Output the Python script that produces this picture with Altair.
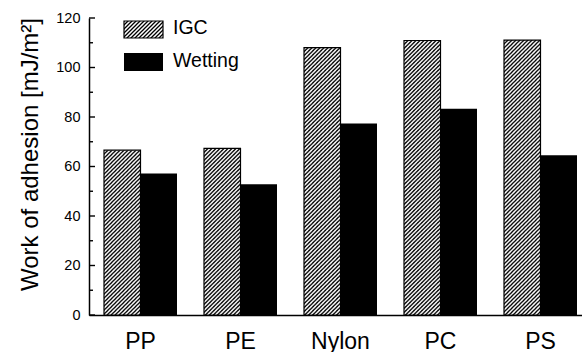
import urllib.parse
import altair as alt
import pandas as pd

# ---- data ----
materials = ["PP", "PE", "Nylon", "PC", "PS"]
igc = [66.6, 67.3, 108.0, 110.9, 111.1]
wetting = [57.2, 52.8, 77.4, 83.3, 64.5]
series = ["IGC", "Wetting"]
major_ticks = [0, 20, 40, 60, 80, 100, 120]
minor_ticks = [10, 30, 50, 70, 90, 110]

rows = []
for m, a, b in zip(materials, igc, wetting):
    rows.append({"material": m, "series": "IGC", "value": a})
    rows.append({"material": m, "series": "Wetting", "value": b})
df = pd.DataFrame(rows)
legend_df = pd.DataFrame({"series": series})
major_df = pd.DataFrame({"v": major_ticks})
minor_df = pd.DataFrame({"v": minor_ticks})

FONT = "Liberation Sans"

hatch_svg = (
    "<svg xmlns='http://www.w3.org/2000/svg' width='100%' height='100%'>"
    "<defs><pattern id='p' width='4' height='4' patternUnits='userSpaceOnUse'>"
    "<path d='M-1,1 L1,-1 M0,4 L4,0 M3,5 L5,3' stroke='black' stroke-width='1.3'/>"
    "</pattern></defs>"
    "<rect width='100%' height='100%' fill='white'/>"
    "<rect width='100%' height='100%' fill='url(#p)'/></svg>"
)
hatch_url = "data:image/svg+xml," + urllib.parse.quote(hatch_svg)

x_enc = alt.X(
    "material:N",
    sort=materials,
    scale=alt.Scale(paddingInner=0.27, paddingOuter=0.1, align=0.75),
    axis=alt.Axis(
        title=None,
        labelAngle=0,
        labelFontSize=23,
        labelFont=FONT,
        labelColor="black",
        labelBaseline="alphabetic",
        labelPadding=33,
        ticks=False,
        tickSize=0,
        domainColor="black",
        domainWidth=1.5,
    ),
)
xo_enc = alt.XOffset("series:N", sort=series, scale=alt.Scale(paddingInner=0, paddingOuter=0))
y_scale = alt.Scale(domain=[0, 120], nice=False)
y_enc = alt.Y(
    "value:Q",
    scale=y_scale,
    axis=alt.Axis(
        values=major_ticks,
        title="Work of adhesion [mJ/m²]",
        titleFontSize=24,
        titleFont=FONT,
        titleFontWeight="normal",
        titleColor="black",
        titleAngle=270,
        titleBaseline="alphabetic",
        titleAlign="center",
        titleX=-52,
        titleY=136,
        labelFontSize=14.5,
        labelFont=FONT,
        labelColor="black",
        labelPadding=9,
        ticks=False,
        tickSize=0,
        grid=False,
        domainColor="black",
        domainWidth=1.5,
    ),
)

base = alt.Chart(df)

wet_bars = base.transform_filter(alt.datum.series == "Wetting").mark_bar(
    color="black"
).encode(x=x_enc, xOffset=xo_enc, y=y_enc)

igc_img = base.transform_filter(alt.datum.series == "IGC").mark_image(
    aspect=False
).encode(x=x_enc, xOffset=xo_enc, y=y_enc, url=alt.value(hatch_url))

igc_outline = base.transform_filter(alt.datum.series == "IGC").mark_bar(
    fillOpacity=0, stroke="black", strokeWidth=1.2
).encode(x=x_enc, xOffset=xo_enc, y=y_enc)

major_rules = alt.Chart(major_df).mark_rule(color="black", strokeWidth=1.4).encode(
    y=alt.Y("v:Q", scale=y_scale), x=alt.value(0), x2=alt.value(6)
)
minor_rules = alt.Chart(minor_df).mark_rule(color="black", strokeWidth=1.4).encode(
    y=alt.Y("v:Q", scale=y_scale), x=alt.value(0), x2=alt.value(4)
)

leg = alt.Chart(legend_df)
leg_igc_img = leg.transform_filter(alt.datum.series == "IGC").mark_image(aspect=False).encode(
    x=alt.value(35), x2=alt.value(74), y=alt.value(3), y2=alt.value(20), url=alt.value(hatch_url)
)
leg_igc_box = leg.transform_filter(alt.datum.series == "IGC").mark_rect(
    fillOpacity=0, stroke="black", strokeWidth=1.2
).encode(x=alt.value(35), x2=alt.value(74), y=alt.value(3), y2=alt.value(20))
leg_wet_box = leg.transform_filter(alt.datum.series == "Wetting").mark_rect(color="black").encode(
    x=alt.value(35), x2=alt.value(74), y=alt.value(35), y2=alt.value(53)
)
leg_igc_text = leg.transform_filter(alt.datum.series == "IGC").mark_text(
    align="left", baseline="alphabetic", fontSize=19.5, font=FONT, color="black"
).encode(x=alt.value(84), y=alt.value(16), text="series:N")
leg_wet_text = leg.transform_filter(alt.datum.series == "Wetting").mark_text(
    align="left", baseline="alphabetic", fontSize=19.5, font=FONT, color="black"
).encode(x=alt.value(84), y=alt.value(49), text="series:N")

chart = alt.layer(
    wet_bars, igc_img, igc_outline, major_rules, minor_rules,
    leg_igc_img, leg_igc_box, leg_wet_box, leg_igc_text, leg_wet_text,
).properties(
    width=493,
    height=297,
    padding={"left": 89, "top": 18, "right": 0, "bottom": 37},
    autosize=alt.AutoSizeParams(type="none"),
    background="white",
).configure_view(strokeWidth=0)

chart.save("out.html", embed_options={"renderer": "svg", "actions": False})
